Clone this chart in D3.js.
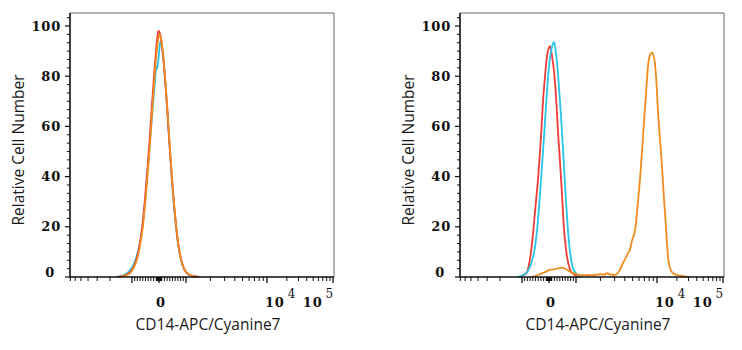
<!DOCTYPE html>
<html><head><meta charset="utf-8">
<script src="https://cdn.jsdelivr.net/npm/d3@7"></script>
<style>
body{margin:0;background:#fff}
.tl{font-family:"DejaVu Serif",serif;font-weight:bold;font-size:13px;fill:#111;letter-spacing:0.8px}
.sup{font-family:"DejaVu Serif",serif;font-weight:normal;font-size:12px;fill:#111}
.ttl{font-family:"Open Sans",sans-serif;font-size:15.5px;fill:#1a1a1a}
</style>
</head><body>
<svg id="c" width="742" height="350"></svg>
<script>
// Histogram positions are in biexponential display units:
// 0 = zero, ±1 = ±10^3, 2 = 10^4, 3 = 10^5.
// Panel A
const aRedX    = [-1.192,-1.137,-1.082,-1.027,-0.963,-0.852,-0.741,-0.630,-0.519,-0.407,-0.333,-0.259,-0.185,-0.111,-0.056,-0.019,0.037,0.111,0.185,0.259,0.333,0.407,0.481,0.556,0.630,0.704,0.778,0.889,1.000,1.049,1.099,1.160];
const aRedY    = [0,0.3,0.8,1.8,3.5,6.5,11.5,19,31,46,57,69,80,90,96,98,97,92,84,74,62,50,39,29,21,14,9,4.5,2,0.8,0.3,0];
const aCyanX   = [-1.205,-1.151,-1.096,-1.041,-0.963,-0.852,-0.741,-0.630,-0.519,-0.407,-0.296,-0.222,-0.148,-0.093,-0.063,-0.019,0.048,0.111,0.185,0.259,0.333,0.407,0.481,0.556,0.630,0.704,0.778,0.889,1.000,1.049,1.111];
const aCyanY   = [0,0.4,1,2.2,4.5,7.5,12,19,30,44,59,69,78,84,83,87,94,91,84,74,62,50,38,28,20,13,8.5,4,1.8,0.6,0];
const aOrangeX = [-1.178,-1.123,-1.068,-1.014,-0.926,-0.815,-0.704,-0.593,-0.481,-0.370,-0.296,-0.222,-0.148,-0.074,-0.019,0.019,0.074,0.148,0.222,0.296,0.370,0.444,0.519,0.593,0.667,0.741,0.852,0.963,1.037,1.086,1.148];
const aOrangeY = [0,0.3,0.8,1.9,3.8,7,12.5,20.5,33,48,59,71,82,91,95.5,97,95,89,80,69,57,45,34,25,17,11,5.5,2.5,1,0.4,0];
// Panel B
const bRedX    = [-1.041,-0.963,-0.815,-0.667,-0.593,-0.519,-0.407,-0.296,-0.222,-0.148,-0.074,0,0.037,0.111,0.185,0.259,0.333,0.407,0.481,0.556,0.630,0.704,0.778,0.889,1.000,1.049];
const bRedY    = [0,0.6,2,10,17,26,39,56,70,80,88,91.5,92,88,82,72,58,46,33,19,11,6,3,1.3,0.5,0];
const bCyanX   = [-1.055,-1.0,-0.852,-0.704,-0.593,-0.519,-0.444,-0.333,-0.222,-0.148,-0.074,0,0.074,0.148,0.185,0.259,0.333,0.407,0.481,0.556,0.630,0.704,0.778,0.852,0.963,1.025,1.062];
const bCyanY   = [0,0.5,1.5,4,8,12,18.5,33,50,62,74,84,90,93,93.7,89,81,70,58,44,30,18.5,10,5,2,0.7,0];
const bOrangeX = [-0.630,-0.407,-0.185,0.037,0.259,0.481,0.593,0.704,0.852,1.012,1.074,1.148,1.222,1.296,1.346,1.383,1.420,1.469,1.506,1.543,1.580,1.617,1.642,1.667,1.691,1.716,1.735,1.765,1.790,1.815,1.840,1.864,1.889,1.914,1.938,1.963,1.988,2.015,2.045,2.076,2.106,2.136,2.152,2.167,2.197,2.242,2.303,2.379,2.470];
const bOrangeY = [0,0.8,1.8,2.8,3.2,3.7,3.4,2.6,1.8,1.0,0.7,0.8,0.7,1.1,0.9,1.5,1.0,0.8,1.2,3.0,5.5,7.8,9.5,11,14.5,17,20,30,39,50,62,73,84,88.5,89.4,87.5,80,66,55,44,31,20,13,8,3.5,1.5,0.8,0.4,0];

const yTickValues = [0, 20, 40, 60, 80, 100];
const xMajorValues = [-1000, 0, 1000, 10000, 100000];
const xLabels = [
  {v: 0, base: "0", sup: ""},
  {v: 10000, base: "10", sup: "4"},
  {v: 100000, base: "10", sup: "5"}
];
const xTitle = "CD14-APC/Cyanine7";
const yTitle = "Relative Cell Number";
const colors = {red: "#ee3b3b", cyan: "#27c5ea", orange: "#f28a1e"};

// biexponential transform: linear within ±10^3, logarithmic outside
const T = v => Math.abs(v) <= 1000 ? v / 1000 : Math.sign(v) * (1 + Math.log10(Math.abs(v) / 1000));

const W = 264, H = 264;
const x = d3.scaleLinear().domain([-1.849, -1, 0, 1, 2, 3.015]).range([0, 62, 89, 116, 197, W]);
const y = d3.scaleLinear().domain([0, 100]).range([H, 13]);

// minor tick values on the x axis
const xMinor = [];
for (let k = 2; k <= 7; k++) xMinor.push(-k * 1000);
for (let k = 1; k <= 9; k++) { xMinor.push(k * 100, -k * 100, k * 10, -k * 10); }
for (let k = 2; k <= 9; k++) { xMinor.push(k * 1000, k * 10000); }
const yMinor = d3.range(0, 105, 20 / 6).filter(v => yTickValues.every(t => Math.abs(t - v) > 0.1));

const svg = d3.select("#c");

function panel(ox, series) {
  const g = svg.append("g").attr("transform", `translate(${ox},13)`);
  // frame
  g.append("path").attr("d", `M0,0H${W}V${H}`).attr("fill", "none").attr("stroke", "#666").attr("stroke-width", 1);
  // curves
  const line = d3.line().x(d => x(d[0])).y(d => y(d[1])).curve(d3.curveMonotoneX);
  series.forEach(s => {
    g.append("path").datum(d3.zip(s.x, s.y)).attr("d", line)
      .attr("fill", "none").attr("stroke", s.c).attr("stroke-width", 1.8).attr("stroke-linejoin", "round");
  });
  // y axis
  g.selectAll(".ym").data(yTickValues).join("line")
    .attr("x1", -5).attr("x2", 0).attr("y1", d => y(d)).attr("y2", d => y(d)).attr("stroke", "#111").attr("stroke-width", 1.2);
  g.selectAll(".yn").data(yMinor).join("line")
    .attr("x1", -3).attr("x2", 0).attr("y1", d => y(d)).attr("y2", d => y(d)).attr("stroke", "#111").attr("stroke-width", 1);
  g.selectAll(".yl").data(yTickValues).join("text").attr("class", "tl")
    .attr("text-anchor", "end")
    .attr("x", d => d === 0 ? -15 : -9)
    .attr("y", d => y(d) + (d === 0 ? 0 : 4.5))
    .text(d => d);
  // x axis
  g.selectAll(".xm").data(xMajorValues).join("line")
    .attr("x1", d => x(T(d))).attr("x2", d => x(T(d))).attr("y1", H).attr("y2", H + 6).attr("stroke", "#111").attr("stroke-width", 1.3);
  g.selectAll(".xn").data(xMinor).join("line")
    .attr("x1", d => x(T(d))).attr("x2", d => x(T(d))).attr("y1", H).attr("y2", H + 4).attr("stroke", "#111").attr("stroke-width", 1);
  const lab = g.selectAll(".xl").data(xLabels).join("text").attr("class", "tl")
    .attr("x", d => x(T(d.v)) + (d.v === 0 ? 2 : d.v === 10000 ? -2 : 1))
    .attr("y", H + 30)
    .attr("text-anchor", d => d.v === 0 ? "middle" : d.v === 10000 ? "start" : "end");
  lab.append("tspan").text(d => d.base);
  lab.append("tspan").attr("class", "sup").attr("dx", 3).attr("dy", -9).text(d => d.sup);
  // axis lines
  g.append("path").attr("d", `M0,0V${H}H${W}`).attr("fill", "none").attr("stroke", "#111").attr("stroke-width", 1.6);
  // titles
  g.append("text").attr("class", "ttl").attr("text-anchor", "middle")
    .attr("x", 138).attr("y", H + 53).text(xTitle);
  g.append("text").attr("class", "ttl").attr("text-anchor", "middle")
    .attr("transform", `translate(-46,${137}) rotate(-90)`).text(yTitle);
}

panel(70, [
  {x: aCyanX, y: aCyanY, c: colors.cyan},
  {x: aRedX, y: aRedY, c: colors.red},
  {x: aOrangeX, y: aOrangeY, c: colors.orange}
]);
panel(460, [
  {x: bRedX, y: bRedY, c: colors.red},
  {x: bCyanX, y: bCyanY, c: colors.cyan},
  {x: bOrangeX, y: bOrangeY, c: colors.orange}
]);
</script>
</body></html>
